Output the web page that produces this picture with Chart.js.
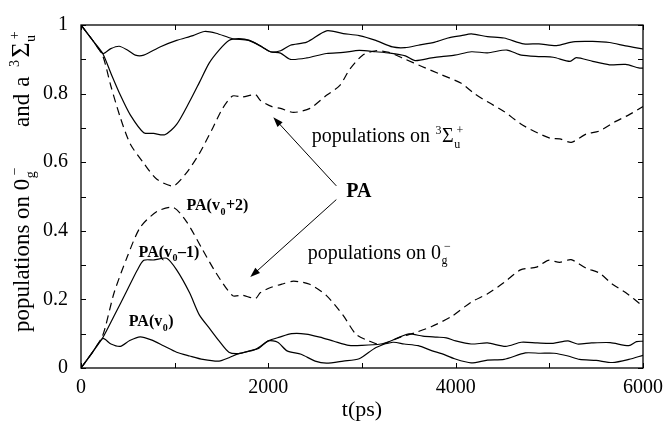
<!DOCTYPE html>
<html>
<head>
<meta charset="utf-8">
<script src="https://cdn.jsdelivr.net/npm/chart.js@4.4.1/dist/chart.umd.min.js"></script>
<style>
  html, body { margin: 0; padding: 0; background: #fff; }
  #wrap { width: 671px; height: 426px; }
</style>
</head>
<body>
<div id="wrap"><canvas id="popChart" width="671" height="426"></canvas></div>
<script>
// populations on 0g- (lower curves)
const gTimeV0 = [0, 120, 232, 320, 420, 520, 632, 750, 880, 1021, 1160, 1302, 1474, 1580, 1684, 1863, 2000, 2120, 2250, 2400, 2550, 2700, 2860, 3000, 3200, 3300, 3490, 3650, 3800, 3900, 4000, 4165, 4340, 4534, 4700, 4870, 5040, 5200, 5300, 5450, 5650, 5849, 5930, 6000];
const gPopV0 = [0, 0.045, 0.086, 0.07, 0.063, 0.08, 0.091, 0.082, 0.065, 0.046, 0.035, 0.025, 0.02, 0.03, 0.042, 0.054, 0.079, 0.09, 0.1, 0.099, 0.09, 0.078, 0.066, 0.066, 0.07, 0.078, 0.099, 0.093, 0.09, 0.088, 0.079, 0.07, 0.073, 0.063, 0.075, 0.073, 0.072, 0.079, 0.07, 0.073, 0.074, 0.065, 0.077, 0.078];

const gTimeV0m1 = [0, 120, 232, 350, 495, 600, 670, 780, 915, 1021, 1158, 1263, 1368, 1474, 1579, 1684, 1800, 1900, 2000, 2100, 2200, 2350, 2500, 2620, 2800, 2970, 3150, 3330, 3450, 3600, 3750, 3850, 3989, 4165, 4340, 4516, 4744, 4900, 5050, 5200, 5323, 5500, 5674, 5849, 6000];
const gPopV0m1 = [0, 0.045, 0.088, 0.15, 0.228, 0.285, 0.314, 0.315, 0.32, 0.286, 0.22, 0.155, 0.117, 0.079, 0.046, 0.042, 0.05, 0.058, 0.079, 0.075, 0.05, 0.04, 0.02, 0.014, 0.02, 0.027, 0.06, 0.075, 0.07, 0.065, 0.05, 0.042, 0.027, 0.015, 0.023, 0.025, 0.044, 0.043, 0.043, 0.035, 0.025, 0.022, 0.016, 0.025, 0.037];

const gTimeV0p2 = [0, 120, 232, 354, 495, 632, 810, 986, 1126, 1302, 1442, 1618, 1723, 1863, 1916, 2039, 2150, 2270, 2442, 2621, 2797, 2937, 3074, 3200, 3390, 3568, 3744, 3955, 4165, 4337, 4516, 4692, 4863, 4989, 5112, 5232, 5393, 5534, 5674, 5814, 6000];
const gPopV0p2 = [0, 0.045, 0.095, 0.22, 0.325, 0.41, 0.456, 0.468, 0.427, 0.343, 0.277, 0.211, 0.212, 0.203, 0.22, 0.236, 0.245, 0.253, 0.244, 0.211, 0.154, 0.098, 0.079, 0.068, 0.088, 0.103, 0.121, 0.15, 0.192, 0.216, 0.249, 0.286, 0.294, 0.314, 0.308, 0.316, 0.291, 0.277, 0.244, 0.22, 0.18];

// populations on a3Sigma_u+ (upper curves)
const aTimeV0 = [0, 120, 232, 318, 407, 495, 580, 670, 843, 1021, 1196, 1316, 1442, 1618, 1789, 1934, 2021, 2130, 2235, 2410, 2621, 2800, 2970, 3147, 3326, 3460, 3600, 3779, 3919, 4060, 4168, 4340, 4516, 4726, 4888, 5077, 5253, 5463, 5642, 5814, 6000];
const aPopV0 = [1, 0.957, 0.917, 0.931, 0.938, 0.927, 0.912, 0.912, 0.936, 0.955, 0.969, 0.981, 0.976, 0.96, 0.955, 0.936, 0.922, 0.925, 0.941, 0.95, 0.983, 0.975, 0.969, 0.955, 0.936, 0.934, 0.941, 0.95, 0.962, 0.969, 0.974, 0.966, 0.962, 0.945, 0.945, 0.94, 0.951, 0.952, 0.949, 0.939, 0.93];

const aTimeV0m1 = [0, 120, 232, 318, 421, 526, 670, 775, 895, 1021, 1158, 1263, 1368, 1474, 1579, 1684, 1800, 1934, 2021, 2130, 2235, 2410, 2621, 2800, 2970, 3147, 3300, 3463, 3568, 3744, 3849, 3989, 4168, 4340, 4547, 4700, 4905, 5042, 5221, 5288, 5463, 5642, 5814, 5954, 6000];
const aPopV0m1 = [1, 0.957, 0.917, 0.86, 0.795, 0.738, 0.686, 0.684, 0.68, 0.71, 0.776, 0.832, 0.889, 0.927, 0.955, 0.96, 0.955, 0.936, 0.922, 0.918, 0.9, 0.904, 0.917, 0.92, 0.926, 0.922, 0.918, 0.91, 0.896, 0.904, 0.908, 0.912, 0.922, 0.919, 0.927, 0.912, 0.908, 0.906, 0.894, 0.905, 0.894, 0.884, 0.885, 0.875, 0.874];

const aTimeV0p2 = [0, 120, 232, 318, 421, 526, 670, 810, 986, 1126, 1263, 1407, 1512, 1618, 1723, 1863, 1916, 2039, 2130, 2270, 2445, 2621, 2761, 2867, 3007, 3147, 3288, 3463, 3639, 3849, 4060, 4200, 4340, 4516, 4692, 4832, 5007, 5112, 5235, 5393, 5534, 5709, 5849, 6000];
const aPopV0p2 = [1, 0.957, 0.91, 0.823, 0.729, 0.653, 0.597, 0.55, 0.531, 0.569, 0.625, 0.7, 0.757, 0.793, 0.79, 0.797, 0.78, 0.762, 0.757, 0.745, 0.757, 0.795, 0.823, 0.87, 0.912, 0.925, 0.92, 0.9, 0.879, 0.855, 0.83, 0.8, 0.776, 0.748, 0.712, 0.691, 0.67, 0.668, 0.658, 0.682, 0.691, 0.719, 0.738, 0.762];

const xTicks = [0, 1000, 2000, 3000, 4000, 5000, 6000];
const yTicks = [0, 0.1, 0.2, 0.3, 0.4, 0.5, 0.6, 0.7, 0.8, 0.9, 1];

const serif = '"Liberation Serif", "Times New Roman", "DejaVu Serif", serif';

function toPoints(times, pops) {
    return times.map((t, i) => ({ x: t, y: pops[i] }));
}

function curve(times, pops, dashed) {
    return {
        data: toPoints(times, pops),
        borderColor: '#000',
        borderWidth: 1.2,
        borderDash: dashed ? [8, 5] : [],
        pointRadius: 0,
        tension: 0.25,
        fill: false
    };
}

// text with stacked sub/superscripts; parts are strings, {sub, sup}, {gap} or {big}
function drawRich(ctx, parts, x, y, size, weight) {
    const small = Math.round(size * 0.62);
    const mainFont = `${weight} ${size}px ${serif}`;
    const smallFont = `${weight} ${small}px ${serif}`;
    let cx = x;
    ctx.textBaseline = 'alphabetic';
    ctx.textAlign = 'left';
    parts.forEach(p => {
        if (typeof p === 'string') {
            ctx.font = mainFont;
            ctx.fillText(p, cx, y);
            cx += ctx.measureText(p).width;
        } else if (p.gap) {
            cx += p.gap;
        } else if (p.big) {
            ctx.font = `${weight} ${Math.round(size * 1.15)}px ${serif}`;
            ctx.fillText(p.big, cx, y);
            cx += ctx.measureText(p.big).width;
        } else {
            ctx.font = smallFont;
            let w = 0;
            if (p.sub) {
                ctx.fillText(p.sub, cx + 0.5, y + size * 0.28);
                w = ctx.measureText(p.sub).width;
            }
            if (p.sup) {
                const shift = p.sub ? w * 0.4 : 0;
                ctx.fillText(p.sup, cx + 0.5 + shift, y - size * 0.42);
                w = Math.max(w, ctx.measureText(p.sup).width + shift);
            }
            cx += w + 1;
        }
    });
}

function arrow(ctx, x0, y0, x1, y1) {
    const ang = Math.atan2(y1 - y0, x1 - x0);
    const len = 10, half = 3.5;
    ctx.beginPath();
    ctx.moveTo(x0, y0);
    ctx.lineTo(x1 - Math.cos(ang) * len * 0.8, y1 - Math.sin(ang) * len * 0.8);
    ctx.lineWidth = 1;
    ctx.stroke();
    ctx.beginPath();
    ctx.moveTo(x1, y1);
    ctx.lineTo(x1 - Math.cos(ang) * len - Math.sin(ang) * half, y1 - Math.sin(ang) * len + Math.cos(ang) * half);
    ctx.lineTo(x1 - Math.cos(ang) * len + Math.sin(ang) * half, y1 - Math.sin(ang) * len - Math.cos(ang) * half);
    ctx.closePath();
    ctx.fill();
}

// box, inward ticks on all four sides, arrows and labels
const decorations = {
    id: 'decorations',
    afterDraw(chart) {
        const { ctx, chartArea: a, scales: { x, y } } = chart;
        ctx.save();
        ctx.strokeStyle = '#000';
        ctx.fillStyle = '#000';
        ctx.lineWidth = 1.3;
        ctx.strokeRect(a.left, a.top, a.right - a.left, a.bottom - a.top);

        ctx.lineWidth = 1;
        ctx.beginPath();
        xTicks.forEach(t => {
            const px = Math.round(x.getPixelForValue(t)) + 0.5;
            ctx.moveTo(px, a.bottom); ctx.lineTo(px, a.bottom - 5);
            ctx.moveTo(px, a.top); ctx.lineTo(px, a.top + 5);
        });
        yTicks.forEach(v => {
            const py = Math.round(y.getPixelForValue(v)) + 0.5;
            ctx.moveTo(a.left, py); ctx.lineTo(a.left + 5, py);
            ctx.moveTo(a.right, py); ctx.lineTo(a.right - 5, py);
        });
        ctx.stroke();

        // arrows from the PA label
        arrow(ctx, x.getPixelForValue(2726), y.getPixelForValue(0.531), x.getPixelForValue(2053), y.getPixelForValue(0.731));
        arrow(ctx, x.getPixelForValue(2726), y.getPixelForValue(0.491), x.getPixelForValue(1807), y.getPixelForValue(0.265));

        drawRich(ctx, ['populations on ', { sup: '3' }, 'Σ', { sub: 'u', sup: '+' }],
            x.getPixelForValue(2463), y.getPixelForValue(0.658), 20, 'normal');
        drawRich(ctx, ['populations on 0', { sub: 'g', sup: '−' }],
            x.getPixelForValue(2420), y.getPixelForValue(0.319), 20, 'normal');
        drawRich(ctx, ['PA'], x.getPixelForValue(2832), y.getPixelForValue(0.498), 20, 'bold');
        drawRich(ctx, ['PA(v', { sub: '0' }, '+2)'], x.getPixelForValue(1126), y.getPixelForValue(0.46), 16, 'bold');
        drawRich(ctx, ['PA(v', { sub: '0' }, '–1)'], x.getPixelForValue(615), y.getPixelForValue(0.325), 16, 'bold');
        drawRich(ctx, ['PA(v', { sub: '0' }, ')'], x.getPixelForValue(510), y.getPixelForValue(0.121), 16, 'bold');

        // rotated y-axis title, running upward from the lower left
        ctx.translate(29, 332);
        ctx.rotate(-Math.PI / 2);
        drawRich(ctx, ['populations on 0', { sub: 'g', sup: '−' }, { gap: 40 }, 'and', { gap: 7 }, 'a', { gap: 9 },
            { sup: '3' }, { gap: 2 }, { big: 'Σ' }, { sub: 'u', sup: '+' }], 0, 0, 23, 'normal');
        ctx.restore();
    }
};

const ctx = document.getElementById('popChart').getContext('2d');

const popChart = new Chart(ctx, {
    type: 'line',
    data: {
        datasets: [
            curve(gTimeV0, gPopV0, false),
            curve(gTimeV0m1, gPopV0m1, false),
            curve(gTimeV0p2, gPopV0p2, true),
            curve(aTimeV0, aPopV0, false),
            curve(aTimeV0m1, aPopV0m1, false),
            curve(aTimeV0p2, aPopV0p2, true)
        ]
    },
    options: {
        responsive: false,
        animation: false,
        events: [],
        layout: { padding: { top: 14, right: 20, left: 0, bottom: 0 } },
        plugins: {
            legend: { display: false },
            tooltip: { enabled: false }
        },
        scales: {
            x: {
                type: 'linear',
                min: 0,
                max: 6000,
                afterFit: s => { s.height = 58; },
                afterBuildTicks: s => { s.ticks = xTicks.map(v => ({ value: v })); },
                grid: { display: false, drawTicks: false },
                border: { display: false },
                ticks: {
                    color: '#000',
                    font: { family: serif, size: 20 },
                    padding: 8,
                    maxRotation: 0,
                    autoSkip: false,
                    callback: v => (v % 2000 === 0 ? String(v) : '')
                },
                title: {
                    display: true,
                    text: 't(ps)',
                    color: '#000',
                    font: { family: serif, size: 22 },
                    padding: { top: 0, bottom: 3 }
                }
            },
            y: {
                min: 0,
                max: 1,
                afterFit: s => { s.width = 81; },
                afterBuildTicks: s => { s.ticks = yTicks.map(v => ({ value: v })); },
                grid: { display: false, drawTicks: false },
                border: { display: false },
                ticks: {
                    color: '#000',
                    font: { family: serif, size: 20 },
                    padding: 13,
                    autoSkip: false,
                    callback: v => {
                        const k = Math.round(v * 10);
                        if (k % 2 !== 0) return '';
                        return k === 0 ? '0' : k === 10 ? '1' : (k / 10).toFixed(1);
                    }
                }
            }
        }
    },
    plugins: [decorations]
});
</script>
</body>
</html>
